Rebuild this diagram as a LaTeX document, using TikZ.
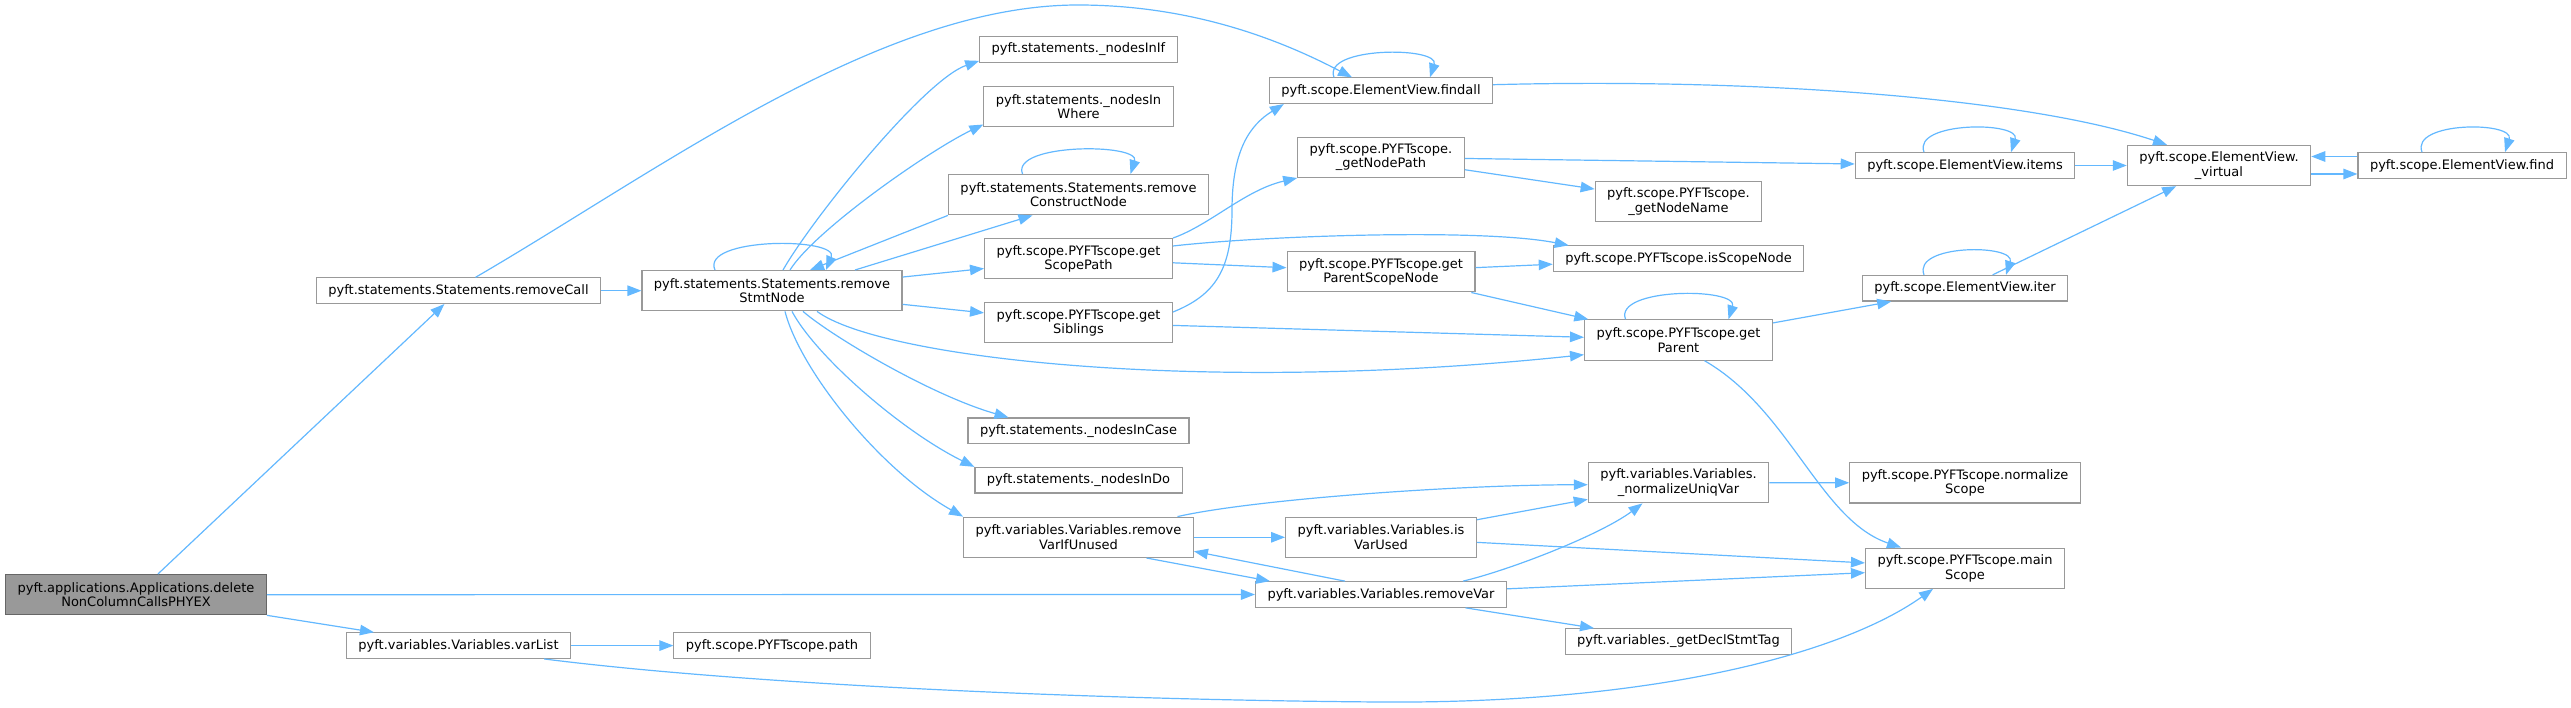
\documentclass[tikz,border=0pt]{standalone}
\usepackage{fontspec}
\setmainfont{DejaVu Sans}
\usetikzlibrary{arrows.meta, calc}
\definecolor{edgeblue}{HTML}{63B8FF}
\definecolor{boxgray}{HTML}{999999}
\definecolor{rootgray}{HTML}{666666}

\begin{document}
\begin{tikzpicture}[x=1pt, y=-1pt,
  fn/.style={draw=boxgray, line width=1.1pt, fill=white, inner xsep=12pt, inner ysep=0pt,
    minimum height=25.6pt, align=center, font=\fontsize{13}{14.5}\selectfont},
  fn2/.style={fn, minimum height=40.3pt},
  root/.style={fn2, fill=boxgray, draw=rootgray},
  call/.style={draw=edgeblue, line width=1.2pt, -{Triangle[length=14pt,width=10.5pt]}}]
  \useasboundingbox (0,0) rectangle (2571,708);
  % Caller
  \node[root] (main) at (136,594.7) {pyft.applications.Applications.delete\\NonColumnCallsPHYEX};
  % Second column
  \node[fn] (rmcall) at (458.5,290.7) {pyft.statements.Statements.removeCall};
  \node[fn] (varlist) at (458.5,645.6) {pyft.variables.Variables.varList};
  % Third column
  \node[fn2] (rmstmt) at (772,290.7) {pyft.statements.Statements.remove\\StmtNode};
  \node[fn] (path) at (772,645.6) {pyft.scope.PYFTscope.path};
  % Fourth column
  \node[fn] (inif) at (1078.5,49.5) {pyft.statements.\_nodesInIf};
  \node[fn2] (inwhere) at (1078.5,106.8) {pyft.statements.\_nodesIn\\Where};
  \node[fn2] (rmconstr) at (1078.5,194.7) {pyft.statements.Statements.remove\\ConstructNode};
  \node[fn2] (getscp) at (1078.5,258.7) {pyft.scope.PYFTscope.get\\ScopePath};
  \node[fn2] (getsib) at (1078.5,322.7) {pyft.scope.PYFTscope.get\\Siblings};
  \node[fn] (incase) at (1078.5,430.8) {pyft.statements.\_nodesInCase};
  \node[fn] (indo) at (1078.5,480.2) {pyft.statements.\_nodesInDo};
  \node[fn2] (rmvarifu) at (1078.5,537.3) {pyft.variables.Variables.remove\\VarIfUnused};
  % Fifth column
  \node[fn] (findall) at (1381,90.7) {pyft.scope.ElementView.findall};
  \node[fn2] (getnp) at (1381,157.3) {pyft.scope.PYFTscope.\\\_getNodePath};
  \node[fn2] (getpsn) at (1381,271.8) {pyft.scope.PYFTscope.get\\ParentScopeNode};
  \node[fn2] (isvu) at (1381,537.3) {pyft.variables.Variables.is\\VarUsed};
  \node[fn] (rmvar) at (1381,594.5) {pyft.variables.Variables.removeVar};
  % Sixth column
  \node[fn2] (getnn) at (1678.5,201.5) {pyft.scope.PYFTscope.\\\_getNodeName};
  \node[fn] (isscp) at (1678.5,258.7) {pyft.scope.PYFTscope.isScopeNode};
  \node[fn2] (getpar) at (1678.5,340) {pyft.scope.PYFTscope.get\\Parent};
  \node[fn2] (normuv) at (1678.5,482.7) {pyft.variables.Variables.\\\_normalizeUniqVar};
  \node[fn] (getdecl) at (1678.5,641.5) {pyft.variables.\_getDeclStmtTag};
  % Seventh column and beyond
  \node[fn] (items) at (1965,165.5) {pyft.scope.ElementView.items};
  \node[fn] (iter) at (1965,288.2) {pyft.scope.ElementView.iter};
  \node[fn2] (normscp) at (1965,482.8) {pyft.scope.PYFTscope.normalize\\Scope};
  \node[fn2] (mainscp) at (1965,568.2) {pyft.scope.PYFTscope.main\\Scope};
  \node[fn2] (virt) at (2219,165.5) {pyft.scope.ElementView.\\\_virtual};
  \node[fn] (find) at (2462,165.5) {pyft.scope.ElementView.find};

  % Calls of the caller
  \draw[call] (main) -- (rmcall);
  \draw[call] (main) -- (rmvar);
  \draw[call] (main) -- (varlist);
  % removeCall
  \draw[call] (rmcall) -- (rmstmt);
  \draw[call] ([xshift=17pt]rmcall.north) .. controls (660,170) and (880,5) .. (1078,5)
    .. controls (1200,5) and (1290,45) .. ([xshift=-29pt]findall.north);
  % removeStmtNode
  \draw[call] ([xshift=-57pt]rmstmt.north) .. controls +(-15,-33) and +(14,-33) .. ([xshift=54pt]rmstmt.north);
  \draw[call] ([xshift=11pt]rmstmt.north) .. controls (812,219) and (924,80) .. ([yshift=2pt]inif.south west);
  \draw[call] ([xshift=18pt]rmstmt.north) .. controls (815,230) and (930,150) .. ([yshift=3pt]inwhere.south west);
  \draw[call] ([xshift=83pt]rmstmt.north) -- ([xshift=-46pt]rmconstr.south);
  \draw[call] (rmconstr.south west) -- ([xshift=38pt]rmstmt.north);
  \draw[call] ([xshift=-56pt]rmconstr.north) .. controls +(-12,-31) and +(10,-31) .. ([xshift=52pt]rmconstr.north);
  \draw[call] (rmstmt) -- (getscp);
  \draw[call] (rmstmt) -- (getsib);
  \draw[call] ([xshift=45pt]rmstmt.south) .. controls (880,358) and (1200,395) .. ([yshift=6pt]getpar.south west);
  \draw[call] ([xshift=31pt]rmstmt.south) .. controls (830,335) and (930,395) .. ([xshift=-70pt]incase.north);
  \draw[call] ([xshift=20pt]rmstmt.south) .. controls (815,355) and (900,430) .. (indo.north west);
  \draw[call] ([xshift=13pt]rmstmt.south) .. controls (800,370) and (880,470) .. (rmvarifu.north west);
  % getScopePath and getSiblings
  \draw[call] (getscp.north east) .. controls (1210,225) and (1245,190) .. (getnp.south west);
  \draw[call] ([yshift=-8pt]getscp.north east) .. controls (1260,236) and (1480,228) .. ([xshift=16pt]isscp.north west);
  \draw[call] (getscp) -- (getpsn);
  \draw[call] ([yshift=-10pt]getsib.north east) .. controls (1215,295) and (1232,270) .. (1232,210)
    .. controls (1232,150) and (1250,125) .. ([xshift=15pt]findall.south west);
  \draw[call] (getsib) -- (getpar);
  \draw[call] (getpsn) -- (isscp);
  \draw[call] (getpsn) -- (getpar);
  % findall and _getNodePath
  \draw[call] ([xshift=-47pt]findall.north) .. controls +(-12,-31) and +(10,-31) .. ([xshift=49pt]findall.north);
  \draw[call] ([yshift=6pt]findall.east) .. controls (1750,78) and (2024,97) .. ([xshift=-52pt]virt.north);
  \draw[call] (getnp) -- (items);
  \draw[call] (getnp) -- (getnn);
  % getParent
  \draw[call] ([xshift=-53pt]getpar.north) .. controls +(-12,-32) and +(10,-32) .. ([xshift=50pt]getpar.north);
  \draw[call] (getpar) -- (iter);
  \draw[call] ([xshift=26pt]getpar.south) .. controls (1790,410) and (1820,520) .. ([xshift=-64pt]mainscp.north);
  % ElementView
  \draw[call] ([xshift=-41pt]items.north) .. controls +(-12,-31) and +(10,-31) .. ([xshift=46pt]items.north);
  \draw[call] (items) -- (virt);
  \draw[call] ([xshift=-41pt]iter.north) .. controls +(-12,-31) and +(10,-31) .. ([xshift=41pt]iter.north);
  \draw[call] (iter) -- (virt);
  \draw[call] ([yshift=-8.5pt]virt.east) -- ([yshift=-8.5pt]find.west);
  \draw[call] ([yshift=9pt]find.west) -- ([yshift=9pt]virt.east);
  \draw[call] ([xshift=-40pt]find.north) .. controls +(-12,-31) and +(10,-31) .. ([xshift=43pt]find.north);
  % Variables
  \draw[call] ([xshift=99pt]rmvarifu.north) .. controls (1250,500) and (1450,485) .. ([yshift=-2pt]normuv.west);
  \draw[call] (rmvarifu) -- (isvu);
  \draw[call] ([xshift=68pt]rmvarifu.south) -- ([xshift=-111pt]rmvar.north);
  \draw[call] ([xshift=-36pt]rmvar.north) -- ([yshift=-14pt]rmvarifu.east);
  \draw[call] (isvu) -- (normuv);
  \draw[call] (isvu) -- (mainscp);
  \draw[call] ([xshift=82pt]rmvar.north) .. controls (1510,570) and (1600,535) .. ([xshift=-36pt]normuv.south);
  \draw[call] (rmvar) -- (mainscp);
  \draw[call] (rmvar) -- (getdecl);
  \draw[call] (normuv) -- (normscp);
  \draw[call] (varlist) -- (path);
  \draw[call] ([xshift=-27pt]varlist.south east) .. controls (750,685) and (1100,700) .. (1380,702)
    .. controls (1650,704) and (1840,655) .. ([xshift=-32pt]mainscp.south);
\end{tikzpicture}
\end{document}
